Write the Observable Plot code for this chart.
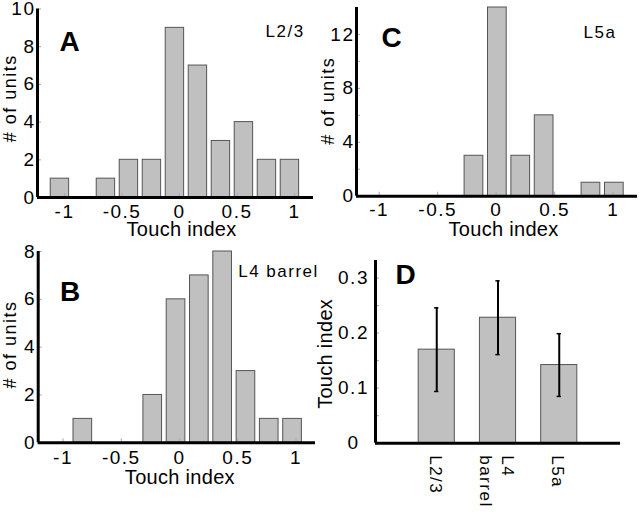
<!DOCTYPE html>
<html><head><meta charset="utf-8">
<script src="https://cdn.jsdelivr.net/npm/d3@7"></script>
<script src="https://cdn.jsdelivr.net/npm/@observablehq/plot@0.6"></script>
<style>
body{margin:0;background:#fff;}
#fig{position:relative;width:640px;height:515px;overflow:hidden;background:#fff;}
#fig > div{position:absolute;}
#fig g[font-size="19"] text{letter-spacing:1.5px;}
#fig g[font-size="18"] text{letter-spacing:1.5px;}
#fig g[font-size="17"] text{letter-spacing:1.5px;}
#fig g[font-size="20"] text{letter-spacing:0.3px;}
</style></head><body><div id="fig"></div>
<script>
// ---- Data ----
// Panel A: L2/3 histogram of touch index
const centersA = [-1.04, -0.84, -0.64, -0.44, -0.24, -0.04, 0.16, 0.36, 0.56, 0.76, 0.96];
const countsA  = [1, 0, 1, 2, 2, 9, 7, 3, 4, 2, 2];
// Panel B: L4 barrel
const centersB = [-0.83, -0.63, -0.43, -0.23, -0.03, 0.17, 0.37, 0.57, 0.77, 0.97];
const countsB  = [1, 0, 0, 2, 6, 7, 8, 3, 1, 1];
// Panel C: L5a
const centersC = [-0.19, 0.01, 0.21, 0.41, 0.61, 0.81, 1.01];
const countsC  = [3, 14, 3, 6, 0, 1, 1];
// Panel D: mean touch index per layer, with SEM
const layers    = ["L2/3", "L4\nbarrel", "L5a"];
const meanIndex = [0.170, 0.228, 0.142];
const semIndex  = [0.076, 0.067, 0.057];

const xTickValues = [-1, -0.5, 0, 0.5, 1];
const xTickLabels = ["-1", "-0.5", "0", "0.5", "1"];
const yTicksA = [0, 2, 4, 6, 8, 10];
const yTicksB = [0, 2, 4, 6, 8];
const yTicksC = [0, 4, 8, 12];
const yMinorC = [2, 6, 10];
const yTicksD = [0, 0.1, 0.2, 0.3];
const yTickLabelsD = ["0", "0.1", "0.2", "0.3"];
const yMinorD = [0.05, 0.15, 0.25];

const FONT = '"Liberation Sans", Arial, Helvetica, sans-serif';
const fig = document.getElementById("fig");

function place(node, left, top) {
  const wrap = document.createElement("div");
  wrap.style.left = left + "px";
  wrap.style.top = top + "px";
  wrap.appendChild(node);
  fig.appendChild(wrap);
}

function histPanel(o) {
  const fw = o.width - o.ml - o.mr, fh = o.height - o.mt - o.mb;
  const half = 0.08;
  const data = o.centers.map((c, i) => ({c, n: o.counts[i]})).filter(d => d.n > 0);
  return Plot.plot({
    width: o.width, height: o.height,
    marginLeft: o.ml, marginRight: o.mr, marginTop: o.mt, marginBottom: o.mb,
    x: {domain: o.xDomain, axis: null},
    y: {domain: o.yDomain, axis: null},
    style: {fontFamily: FONT, background: "transparent", overflow: "visible", color: "#000"},
    marks: [
      Plot.rect(data, {x1: d => d.c - half, x2: d => d.c + half, y1: 0, y2: d => d.n,
        fill: "#c0c0c0", stroke: "#555", strokeWidth: 1}),
      Plot.tickX(xTickValues, {x: d => d, insetTop: fh - 4, stroke: "#aaa"}),
      Plot.tickY(o.yAllTicks, {y: d => d, insetRight: fw - 4, stroke: "#aaa"}),
      Plot.ruleY([o.yDomain[0]], {stroke: "#000", strokeWidth: 3}),
      Plot.ruleX([o.xDomain[0]], {stroke: "#000", strokeWidth: 3}),
      Plot.text(xTickValues, {x: d => d, text: (d, i) => xTickLabels[i], frameAnchor: "bottom",
        lineAnchor: "bottom", dy: o.xLabDy, fontSize: 19, fill: "#000"}),
      Plot.text(o.yTicks, {y: d => d, text: d => String(d), frameAnchor: "left", textAnchor: "end",
        lineAnchor: "middle", dx: -2, fontSize: 19, fill: "#000"}),
      Plot.text(["Touch index"], {frameAnchor: "bottom", lineAnchor: "bottom", dx: o.titleDx, dy: o.titleDy,
        fontSize: 20, fill: "#000"}),
      Plot.text(["# of units"], {frameAnchor: "left", rotate: -90, lineAnchor: "middle", textAnchor: "middle",
        dx: o.ylabDx, dy: o.ylabDy, fontSize: 18, fill: "#000"}),
      Plot.text([o.letter], {frameAnchor: "top-left", textAnchor: "middle", lineAnchor: "middle",
        dx: o.letterDx, dy: o.letterDy, fontSize: 28, fontWeight: "bold", fill: "#000"}),
      Plot.text([o.tag], {frameAnchor: "top-left", textAnchor: "start", lineAnchor: "middle",
        dx: o.tagDx, dy: o.tagDy, fontSize: 17, fill: "#000"})
    ]
  });
}

// Panel A
place(histPanel({
  width: 320, height: 245, ml: 37, mr: 7, mt: 8.5, mb: 48,
  xDomain: [-1.235, 1.165], yDomain: [0, 10],
  centers: centersA, counts: countsA,
  yTicks: yTicksA, yAllTicks: yTicksA,
  xLabDy: 20, titleDx: 6, titleDy: 38.5, ylabDx: -27.5, ylabDy: -5,
  letter: "A", letterDx: 32, letterDy: 33, tag: "L2/3", tagDx: 228, tagDy: 23
}), 0, 0);

// Panel C
place(histPanel({
  width: 320, height: 245, ml: 36, mr: 3, mt: 7, mb: 49.3,
  xDomain: [-1.194, 1.208], yDomain: [0, 14],
  centers: centersC, counts: countsC,
  yTicks: yTicksC, yAllTicks: yTicksC.concat(yMinorC),
  xLabDy: 19.5, titleDx: 6.5, titleDy: 39.5, ylabDx: -28, ylabDy: -1,
  letter: "C", letterDx: 35, letterDy: 31, tag: "L5a", tagDx: 227, tagDy: 25
}), 320, 0);

// Panel B
place(histPanel({
  width: 320, height: 270, ml: 37.7, mr: 5, mt: 6, mb: 72.7,
  xDomain: [-1.213, 1.167], yDomain: [0, 8],
  centers: centersB, counts: countsB,
  yTicks: yTicksB, yAllTicks: yTicksB,
  xLabDy: 21, titleDx: 3, titleDy: 41, ylabDx: -28.2, ylabDy: -2.6,
  letter: "B", letterDx: 32, letterDy: 41, tag: "L4 barrel", tagDx: 200, tagDy: 20
}), 0, 245);

// Panel D
{
  const width = 340, height = 270, ml = 75, mr = 20, mt = 15, mb = 72.3;
  const fw = width - ml - mr, fh = height - mt - mb;
  const d = layers.map((name, i) => ({name, x: i + 1, m: meanIndex[i], s: semIndex[i]}));
  const svg = Plot.plot({
    width, height, marginLeft: ml, marginRight: mr, marginTop: mt, marginBottom: mb,
    x: {domain: [0, 4], axis: null},
    y: {domain: [0, 0.332], axis: null},
    style: {fontFamily: FONT, background: "transparent", overflow: "visible", color: "#000"},
    marks: [
      Plot.rect(d, {x1: v => v.x - 0.295, x2: v => v.x + 0.295, y1: 0, y2: "m",
        fill: "#c0c0c0", stroke: "#555", strokeWidth: 1}),
      Plot.ruleX(d, {x: "x", y1: v => v.m - v.s, y2: v => v.m + v.s, stroke: "#000", strokeWidth: 2}),
      Plot.ruleY(d, {y: v => v.m + v.s, x1: v => v.x - 0.035, x2: v => v.x + 0.035, stroke: "#000", strokeWidth: 1.5}),
      Plot.ruleY(d, {y: v => v.m - v.s, x1: v => v.x - 0.035, x2: v => v.x + 0.035, stroke: "#000", strokeWidth: 1.5}),
      Plot.tickY(yTicksD.concat(yMinorD), {y: v => v, insetRight: fw - 4, stroke: "#aaa"}),
      Plot.ruleY([0], {stroke: "#000", strokeWidth: 3}),
      Plot.ruleX([0], {stroke: "#000", strokeWidth: 3}),
      Plot.text(yTicksD, {y: v => v, text: (v, i) => yTickLabelsD[i], frameAnchor: "left", textAnchor: "middle",
        lineAnchor: "middle", dx: -22, fontSize: 19, fill: "#000"}),
      Plot.text(d, {x: "x", y: 0, text: "name", rotate: 90, textAnchor: "start", lineAnchor: "middle",
        lineHeight: 1.3, dy: 12, fontSize: 17, fill: "#000"}),
      Plot.text(["Touch index"], {frameAnchor: "left", rotate: -90, textAnchor: "middle", lineAnchor: "middle",
        dx: -50, dy: 2, fontSize: 20, fill: "#000"}),
      Plot.text(["D"], {frameAnchor: "top-left", textAnchor: "middle", lineAnchor: "middle",
        dx: 30, dy: 15, fontSize: 28, fontWeight: "bold", fill: "#000"})
    ]
  });
  place(svg, 300, 245);
}
</script>
</body></html>
